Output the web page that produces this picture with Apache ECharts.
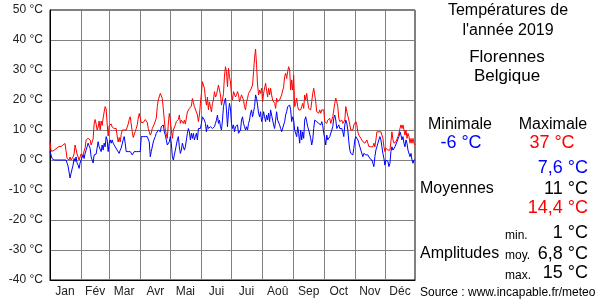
<!DOCTYPE html>
<html>
<head>
<meta charset="utf-8">
<script src="https://cdn.jsdelivr.net/npm/echarts@6/dist/echarts.min.js"></script>
<style>
html,body{margin:0;padding:0;background:#fff;}
#chart{width:600px;height:300px;}
</style>
</head>
<body>
<div id="chart"></div>
<script>
// Month labels and lengths (2019)
const monthLabels = ["Jan","Fév","Mar","Avr","Mai","Jui","Jui","Aoû","Sep","Oct","Nov","Déc"];
const monthDays = [31,28,31,30,31,30,31,31,30,31,30,31];
const yTicks = [-40,-30,-20,-10,0,10,20,30,40,50];

// Daily maximum temperatures (°C), one line per month
const tmax = [
  6,3,3,3,3.5,3.5,4,4,4,4.5, 4.5,4.5,5,5,5,5.5,5,0.5,0,0, 1,0,0.5,1,2,5,5,2,1,0, 0,
  2,2,1.5,3,4,6.7,7,7.2,7.8,6.7, 5,5,7,12,13.5,12,10,11,13,10, 13,11.5,14,16,17.8,17,12,8,
  11.5,12,12,11,11,10.5,11,10.5,8,6, 7.5,6,8.5,10,9.5,10,10.5,10,11,12, 13.5,14.4,12,9.5,7.5,7,9.5,10.5,11.7,14, 15.5,
  14,12.5,12,12.5,13,13.5,14,12.5,10.5,10, 8.3,9,10.5,11,12,13,14,17.8,20,20.5, 22.2,22,20.5,17,13.3,10,10.5,7.2,12,15.5,
  13.3,10,7.2,10,10.5,11.7,12.8,12.8,13.5,15, 12.2,13.3,12.8,12.2,13.3,12,14,16,16,17.2, 16.7,18,20.5,20,17.8,17.2,16,15,12.8,15, 18.9,
  22.2,26.1,25.5,23.9,20.5,18.3,21,16.7,19.4,17.8, 16,18.9,20,22.8,21,21.7,23.3,25,25.6,21.7, 18.3,20,22.2,28,31.1,29.4,24.4,30.6,27.8,26,
  21.7,20,22.8,23.3,21,21.7,22.8,21.7,19.4,20.6, 21.7,21.1,20,17.8,16.7,19.4,20.6,22.2,21.7,23.3, 23.9,25,29.4,33.9,37,31.7,25,21.7,23.3,22.2, 24,
  19.4,22.2,22.8,25.6,23.3,21,23.9,21.7,23.9,21.7, 20,20.6,18.9,17.2,20.6,19.4,18.9,20,19.4,21.7, 22.2,24.4,27.8,28.9,27.2,29.4,31.1,30,23.3,26.7, 23.3,
  28.3,17.8,18.9,20.6,17.8,16.7,17.2,16.7,17.8,18.9, 17.2,21.7,20,22.2,19.4,17.2,17.8,16.7,19.4,22.2, 23.9,21.7,19.4,16.1,16.7,15.6,16.7,15.6,16.7,16.1,
  16.7,12.8,13.3,12.2,13.3,12.8,13.9,12.2,12.8,14.4, 15,18.9,20.6,19.4,17.8,13.9,12.8,12.2,13.3,12.2, 11.7,13.3,17.8,16.1,16.7,13.3,11.7,10,9.4,10, 11.7,
  12.2,12.8,11.7,9.4,8.3,7.8,7.2,6.7,6.1,6.7, 5.6,6.1,6.7,5.6,4.5,5,4.4,5,4.4,5.6, 4.4,6.7,9.4,10,9.4,10,9.4,8.9,7.2,4.4,
  2.8,3.9,4.4,3.3,2.8,3.3,6.1,9.4,6.7,5.6, 5,6.1,6.7,7.8,8.9,10.5,11.7,10.5,11.7,10, 8.3,10,7.2,8.9,7.8,5.6,7.2,5.6,7.2,5.6, 5
];

// Daily minimum temperatures (°C), one line per month
const tmin = [
  2.8,1.7,0.5,0,0,0,0,0,0,0, 0,0,0,0,0,0,0,-1,-2,-4, -6,-4.4,-4,-1.7,0.5,-0.5,1,-1,-1.7,-2.8, -1,
  0,0,1.7,0.5,2.2,3.3,4.4,5.6,6.1,3.9, 1.1,0,-1,1.7,1.5,2,2.2,6.1,4.4,4.4, 2.8,5,3.3,5.6,4.4,7.8,6.7,2.8,
  5.6,6.7,5.6,6.7,5.6,5.6,4.4,4,3.3,2.8, 2.2,3.3,4,4.4,6.7,7.8,5.6,2.8,2.8,2.8, 2.8,2.8,2.2,1.7,1.1,2.8,2.8,2.8,2.8,2.8, 2.8,
  2.8,7.8,7.8,7.8,7.8,7.8,7.8,7.8,7.8,6, 1.1,2.8,3.3,6,7,7.8,8.9,9.4,10,10.5, 9.4,11.1,10.5,11.7,9.4,8.3,6.7,5,4.4,6.1,
  7.8,5.6,1.1,0,1.7,3.3,3.9,6.7,7.8,4.4, 2.2,3.3,5.6,4.4,3.3,4.4,6.7,8.9,10.5,9.4, 6.7,8.9,7.2,8.9,6.7,7.8,8.9,6.7,10.5,11.1, 10.5,
  12.2,14.4,15,13.3,12.2,9.4,11.7,10.5,11.1,11.1, 11.7,10.5,10,11.1,12.2,13.3,15,12.2,13.3,11.1, 10,13.3,17.8,19.4,20.6,16.7,11.1,16.1,18.9,17,
  12.2,10.5,11.7,9.4,11.1,10.5,11.7,8.9,8.3,10, 13.3,14.4,12.2,11.1,10,11.1,10,12.2,13.3,15.6, 16.7,14.4,16.1,17.8,21.7,20.6,18.3,15.6,14.4,16.1, 12.8,
  13.9,16.1,14.4,12.8,15,13.3,15.6,12.8,16.7,15, 13.3,11.7,10.5,13.3,16.1,13.3,13.9,11.7,10.5,9.4, 10,11.7,12.8,15,16.1,17.8,17.2,18.3,16.7,12.8, 14.4,
  13.3,10,10.5,7.8,11.1,8.9,5.6,10,6.7,9.4, 7.2,13.3,14.4,12.8,11.1,10,10,7.2,5,6.7, 10.5,13.3,13.9,12.8,13.3,12.2,12.2,11.7,12.8,11.4,
  8.9,7.2,5,8.3,6.7,7.2,7.8,7.8,10,11.1, 13.9,15,13.3,10.5,10,11.7,10.5,10,10.5,9.4, 7.8,11.7,13.3,12.2,10,6.1,3.3,2.2,2.8,1.7, 3.9,
  6.7,7.8,7.2,6.7,5.6,4.4,3.3,2.8,1.1,2.2, 2.8,1.7,2.2,1.7,1.1,0.5,1.1,0,-1.1,-2.2, 1.1,3.3,4.4,5.6,6.7,7.8,6.7,4.4,2.2,0.5,
  -1.7,0,0.5,-0.5,-2.2,-1.1,2.8,4.4,3.3,2.8, 4.4,3.9,6.1,6.7,7.8,9.4,8.3,6.7,7.8,5.6, 4.4,6.7,5.6,3.3,2.8,1.1,2.2,0,-1.1,0, 0
];

// Summary panel texts
const panelTitle = ["Températures de", "l'année 2019"];
const placeName = ["Florennes", "Belgique"];
const extremes = { minLabel: "Minimale", maxLabel: "Maximale", minVal: "-6 °C", maxVal: "37 °C" };
const means = ["7,6 °C", "11 °C", "14,4 °C"];
const amplitudes = [["min.", "1 °C"], ["moy.", "6,8 °C"], ["max.", "15 °C"]];
const sourceText = "Source : www.incapable.fr/meteo";

// Build day categories and month boundary/mid indices
const days = [];
const monthOfDay = [];
const monthStart = new Set();
const monthMid = {};
let idx = 0;
monthDays.forEach((n, m) => {
  monthStart.add(idx);
  monthMid[idx + Math.floor(n / 2)] = m;
  for (let d = 1; d <= n; d++) {
    days.push((m + 1) + '-' + d);
    monthOfDay.push(m);
    idx++;
  }
});

const FONT = "'Liberation Sans', Arial, sans-serif";
const chart = echarts.init(document.getElementById('chart'), null, { renderer: 'canvas' });

function txt(x, y, text, opts) {
  return {
    type: 'text', x: x, y: y, silent: true,
    style: Object.assign({
      text: text, fill: '#000', font: (opts && opts.size ? opts.size : 15) + 'px ' + FONT,
      align: 'center', verticalAlign: 'middle'
    }, opts && opts.style)
  };
}

const graphics = [
  txt(508, 11, panelTitle[0], { size: 16 }),
  txt(508, 31, panelTitle[1], { size: 16 }),
  txt(507, 57, placeName[0], { size: 17 }),
  txt(507, 76, placeName[1], { size: 17 }),
  txt(460, 125, extremes.minLabel, { size: 16 }),
  txt(553, 125, extremes.maxLabel, { size: 16 }),
  txt(461, 143, extremes.minVal, { size: 18, style: { fill: '#0000ff' } }),
  txt(552, 143, extremes.maxVal, { size: 18, style: { fill: '#ff0000' } }),
  txt(588, 168, means[0], { size: 18, style: { fill: '#0000ff', align: 'right' } }),
  txt(420, 189, "Moyennes", { size: 16, style: { align: 'left' } }),
  txt(588, 189, means[1], { size: 18, style: { align: 'right' } }),
  txt(588, 208, means[2], { size: 18, style: { fill: '#ff0000', align: 'right' } }),
  txt(505, 236, amplitudes[0][0], { size: 12, style: { align: 'left' } }),
  txt(588, 233, amplitudes[0][1], { size: 18, style: { align: 'right' } }),
  txt(420, 254, "Amplitudes", { size: 16, style: { align: 'left' } }),
  txt(505, 256, amplitudes[1][0], { size: 12, style: { align: 'left' } }),
  txt(588, 254, amplitudes[1][1], { size: 18, style: { align: 'right' } }),
  txt(505, 276, amplitudes[2][0], { size: 12, style: { align: 'left' } }),
  txt(588, 273, amplitudes[2][1], { size: 18, style: { align: 'right' } }),
  txt(420, 293, sourceText, { size: 12, style: { align: 'left' } })
];

chart.setOption({
  animation: false,
  backgroundColor: '#fff',
  grid: { left: 50, right: 185, top: 10, bottom: 20, show: true, borderColor: '#000', borderWidth: 1, backgroundColor: '#fff' },
  xAxis: {
    type: 'category',
    data: days,
    boundaryGap: false,
    axisLine: { show: true, onZero: false, lineStyle: { color: '#000', width: 1 } },
    axisTick: { show: false },
    splitLine: { show: true, interval: (i) => monthStart.has(i), lineStyle: { color: '#808080', width: 1 } },
    axisLabel: {
      interval: (i) => monthMid[i] !== undefined,
      formatter: (v, i) => monthLabels[monthOfDay[i]],
      color: '#222', fontSize: 12, fontFamily: FONT, margin: 6
    }
  },
  yAxis: {
    type: 'value', min: yTicks[0], max: yTicks[yTicks.length - 1], interval: 10,
    axisLine: { show: true, lineStyle: { color: '#000', width: 1 } },
    axisTick: { show: false },
    splitLine: { show: true, lineStyle: { color: '#808080', width: 1 } },
    axisLabel: { formatter: '{value} °C', color: '#222', fontSize: 12, fontFamily: FONT, margin: 7 }
  },
  series: [
    { name: 'min', type: 'line', data: tmin, showSymbol: false, symbol: 'none', lineStyle: { color: '#0000ff', width: 1 }, z: 3 },
    { name: 'max', type: 'line', data: tmax, showSymbol: false, symbol: 'none', lineStyle: { color: '#ff0000', width: 1 }, z: 4 }
  ],
  graphic: graphics
});
</script>
</body>
</html>
